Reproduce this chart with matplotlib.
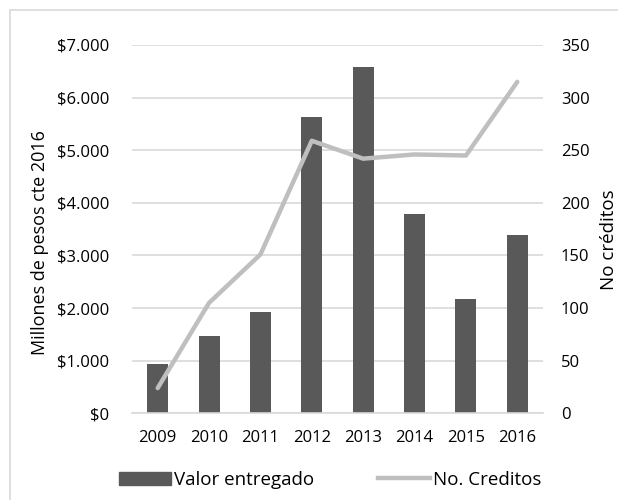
import matplotlib
matplotlib.use('Agg')
import matplotlib.pyplot as plt
import numpy as np
from matplotlib.patches import Rectangle
from matplotlib.lines import Line2D

years = ['2009', '2010', '2011', '2012', '2013', '2014', '2015', '2016']
valor = [930, 1475, 1925, 5630, 6590, 3785, 2165, 3390]
creditos = [24, 105, 151, 259, 242, 246, 245, 315]

plt.rcParams['font.family'] = ['Open Sans', 'DejaVu Sans']

bar_color = '#595959'
line_color = '#bfbfbf'
grid_color = '#d9d9d9'

fig = plt.figure(figsize=(6.18, 5.0), dpi=100)
ax = fig.add_axes([0.2136, 0.1733, 0.665, 0.7367])
ax2 = ax.twinx()

x = np.arange(len(years))
ax.bar(x, valor, width=0.41, color=bar_color, zorder=2)
ax.set_ylim(0, 7000)
ax.set_xlim(-0.5, len(years) - 0.5)
ax.set_yticks(np.arange(0, 7001, 1000))
ax.set_yticklabels(['$0'] + ['${:,}'.format(v).replace(',', '.') for v in range(1000, 7001, 1000)])
ax.set_xticks(x)
ax.set_xticklabels(years)
ax.grid(axis='y', color=grid_color, linewidth=1.2, zorder=0)
ax.set_axisbelow(True)

ax2.plot(x, creditos, color=line_color, linewidth=3.2, solid_capstyle='round', zorder=3)
ax2.set_ylim(0, 350)
ax2.set_yticks(np.arange(0, 351, 50))

for a in (ax, ax2):
    for s in a.spines.values():
        s.set_visible(False)
    a.tick_params(length=0, labelsize=12, colors='black')
ax.spines['bottom'].set_visible(True)
ax.spines['bottom'].set_color(grid_color)
ax.spines['bottom'].set_linewidth(1.2)
ax.tick_params(axis='y', pad=16.5)
ax.tick_params(axis='x', pad=12)
ax2.tick_params(axis='y', pad=13)

fig.text(40 / 618, 1 - 243 / 500, 'Millones de pesos cte 2016', rotation=90,
         fontsize=13, ha='center', va='center')
fig.text(609 / 618, 1 - 240 / 500, 'No créditos', rotation=90, fontsize=13.5,
         ha='center', va='center')

handles = [Rectangle((0, 0), 1, 1, color=bar_color),
           Line2D([0], [0], color=line_color, linewidth=3.2)]
fig.legend(handles, ['Valor entregado', 'No. Creditos'], loc='center',
           bbox_to_anchor=(0.534, 1 - 480 / 500), ncol=2, frameon=False, fontsize=13.5,
           handlelength=2.8, handletextpad=0.15, columnspacing=3.4)

border = Rectangle((10 / 618, -0.1), 1.2, (490 / 500) + 0.1, transform=fig.transFigure,
                   fill=False, edgecolor=grid_color, linewidth=1.2)
fig.patches.append(border)

fig.savefig('out.png', dpi=100)
